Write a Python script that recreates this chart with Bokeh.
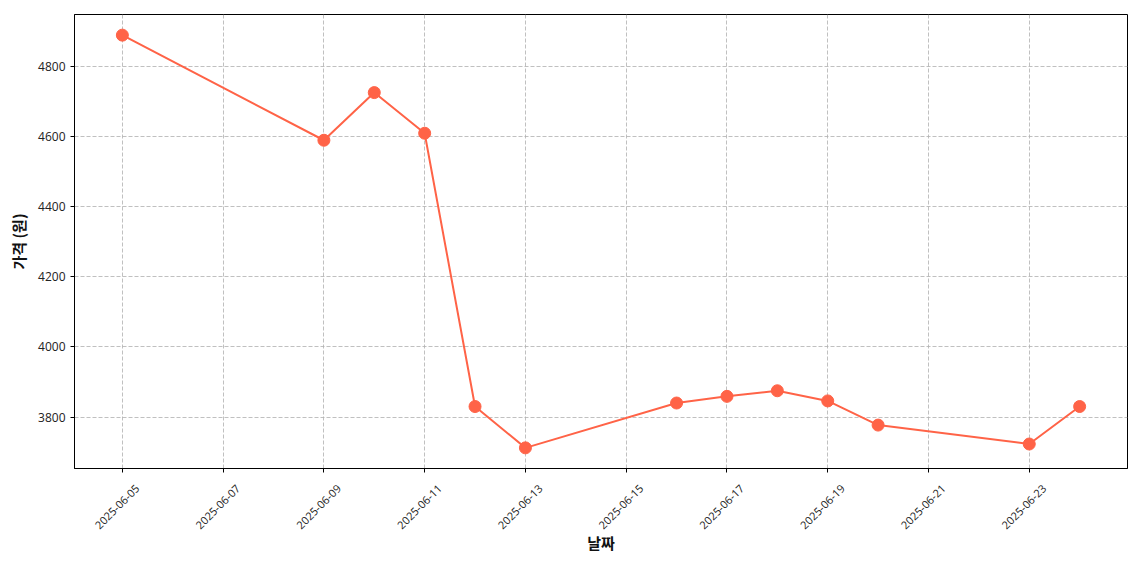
import math
from datetime import datetime
from bokeh.plotting import figure
from bokeh.models import ColumnDataSource, FixedTicker, DatetimeTickFormatter, Range1d
from bokeh.embed import file_html
from bokeh.resources import INLINE

dates = ["2025-06-05", "2025-06-09", "2025-06-10", "2025-06-11", "2025-06-12",
         "2025-06-13", "2025-06-16", "2025-06-17", "2025-06-18", "2025-06-19",
         "2025-06-20", "2025-06-23", "2025-06-24"]
prices = [4890, 4590, 4726, 4610, 3830, 3712, 3840, 3859, 3875, 3846, 3777, 3723, 3830]
x_tick_dates = ["2025-06-05", "2025-06-07", "2025-06-09", "2025-06-11", "2025-06-13",
                "2025-06-15", "2025-06-17", "2025-06-19", "2025-06-21", "2025-06-23"]
y_ticks = [3800, 4000, 4200, 4400, 4600, 4800]

DAY = 86400000.0

def ms(s):
    d = datetime.strptime(s, "%Y-%m-%d")
    return (d - datetime(1970, 1, 1)).total_seconds() * 1000.0

xs = [ms(d) for d in dates]
src = ColumnDataSource(dict(x=xs, y=prices))
tick_pos = [ms(d) for d in x_tick_dates]
# rotated labels are anchored at their end; shift anchors so the label centres sit on the ticks
label_pos = [t + 0.3 * DAY for t in tick_pos]

span_x = xs[-1] - xs[0]
span_y = max(prices) - min(prices)

p = figure(width=1132, height=555, x_axis_type="datetime",
           output_backend="svg", toolbar_location=None,
           min_border_left=74, min_border_top=14, min_border_right=5, min_border_bottom=80,
           x_range=Range1d(xs[0] - 0.05 * span_x, xs[-1] + 0.05 * span_x),
           y_range=Range1d(min(prices) - 0.05 * span_y, max(prices) + 0.05 * span_y))

p.line("x", "y", source=src, line_color="#FF6347", line_width=2)
p.scatter("x", "y", source=src, size=12, fill_color="#FF6347", line_color="#FF6347")

p.xaxis.ticker = FixedTicker(ticks=label_pos, minor_ticks=tick_pos)
p.xaxis.formatter = DatetimeTickFormatter(days="%Y-%m-%d", months="%Y-%m-%d", years="%Y-%m-%d",
                                          hours="%Y-%m-%d", hourmin="%Y-%m-%d")
p.xaxis.major_label_orientation = math.pi / 4
p.xaxis.major_tick_line_color = None
p.xaxis.minor_tick_line_color = "black"
p.xaxis.minor_tick_in = 0
p.xaxis.minor_tick_out = 4
p.xaxis.major_label_standoff = 12
p.yaxis.ticker = FixedTicker(ticks=y_ticks)
p.yaxis.minor_tick_line_color = None
p.yaxis.major_tick_line_color = "black"
p.yaxis.major_tick_in = 0
p.yaxis.major_tick_out = 4

p.xgrid.ticker = FixedTicker(ticks=tick_pos)

for ax in (p.xaxis, p.yaxis):
    ax.major_label_text_font = "Open Sans"
    ax.major_label_text_font_size = "12px"
    ax.major_label_text_color = "#222222"
    ax.axis_label_text_font = "Noto Sans CJK KR"
    ax.axis_label_text_font_style = "bold"
    ax.axis_label_text_font_size = "15px"
    ax.axis_label_text_color = "#111111"
    ax.axis_line_color = "black"
p.xaxis.major_label_text_font_size = "11px"

p.xaxis.axis_label = "날짜"
p.yaxis.axis_label = "가격 (원)"
p.xaxis.axis_label_standoff = -4
p.yaxis.axis_label_standoff = 6

p.outline_line_color = "black"
p.outline_line_width = 1
p.outline_line_alpha = 1

for g in (p.xgrid, p.ygrid):
    g.grid_line_color = "#b0b0b0"
    g.grid_line_dash = "4 2"
    g.grid_line_alpha = 0.8
    g.grid_line_width = 1

open("out.html", "w").write(file_html(p, INLINE))
